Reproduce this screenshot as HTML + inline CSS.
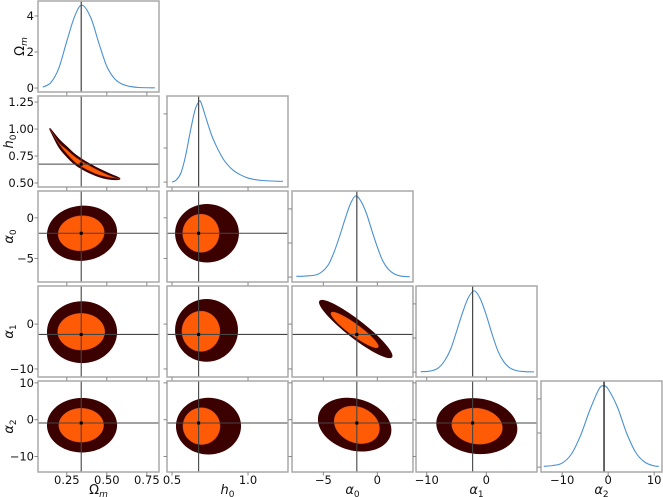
<!DOCTYPE html>
<html><head><meta charset="utf-8"><style>
html,body{margin:0;padding:0;background:#fff;}
svg{display:block;font-family:"DejaVu Sans","Liberation Sans",sans-serif;}
</style></head><body>
<svg id="chart" width="663" height="497" viewBox="0 0 663 497" xmlns="http://www.w3.org/2000/svg"></svg>
<script>
// ---- data ----
const paramNames = ["Ωm","h0","α0","α1","α2"];
const truthValues = [0.34, 0.675, -1.9, -2.3, -0.9];
const xRanges = [[0.07,0.826],[0.467,1.263],[-7.9,3.3],[-11.8,8.5],[-14.6,11.7]];
const yRanges = [[-0.22,4.83],[0.463,1.306],[-7.9,3.3],[-11.8,8.5],[-14.2,10.5]];
const xTicks = [[0.25,0.5,0.75],[0.5,1.0],[-5,0],[-10,0],[-10,0,10]];
const xTickLabels = [["0.25","0.50","0.75"],["0.5","1.0"],["−5","0"],["−10","0"],["−10","0","10"]];
const yTicks = [[0,2,4],[0.5,0.75,1.0,1.25],[-5,0],[-10,0],[-10,0,10]];
const yTickLabels = [["0","2","4"],["0.50","0.75","1.00","1.25"],["−5","0"],["−10","0"],["−10","0","10"]];

// marginal densities
const omX = [0.10,0.15,0.20,0.25,0.30,0.345,0.40,0.45,0.50,0.55,0.60,0.65,0.70,0.80];
const omY = [0.05,0.3,1.1,2.6,4.0,4.6,3.9,2.5,1.2,0.5,0.2,0.08,0.03,0.01];
const h0X = [0.50,0.53,0.56,0.59,0.62,0.65,0.67,0.685,0.70,0.73,0.76,0.79,0.82,0.85,0.90,0.95,1.00,1.05,1.10,1.20,1.23];
const h0Y = [0.0,0.03,0.12,0.33,0.62,0.88,0.97,1.0,0.93,0.75,0.58,0.45,0.34,0.25,0.15,0.09,0.05,0.03,0.02,0.01,0.01];
const a0X = [-7.5,-7,-6.5,-6,-5.5,-5,-4.5,-4,-3.5,-3,-2.5,-2,-1.5,-1,-0.5,0,0.5,1,1.5,2,2.5,3];
const a0Y = [0.01,0.01,0.015,0.02,0.035,0.08,0.16,0.31,0.50,0.71,0.90,1.0,0.93,0.78,0.57,0.37,0.2,0.1,0.045,0.018,0.008,0.005];
const a1X = [-11,-10,-9,-8,-7,-6,-5,-4,-3,-2,-1,0,1,2,3,4,5,6,7,8];
const a1Y = [0.005,0.008,0.02,0.055,0.14,0.28,0.50,0.73,0.92,1.0,0.90,0.70,0.46,0.25,0.12,0.05,0.02,0.008,0.004,0.003];
const a2X = [-14,-12,-10,-8,-6,-4,-2,-1,0,2,4,6,8,10,11];
const a2Y = [0.01,0.02,0.05,0.16,0.39,0.70,0.96,1.0,0.96,0.74,0.42,0.18,0.06,0.015,0.01];

// banana contour (h0 vs Ωm)
const bananaOm = [0.145,0.2,0.25,0.3,0.35,0.4,0.45,0.5,0.55,0.58];
const bananaH = [1.0,0.87,0.79,0.72,0.67,0.63,0.595,0.568,0.548,0.54];
const bananaOuterHalf = [0.004,0.034,0.044,0.045,0.043,0.04,0.035,0.028,0.016,0.004];
const bananaInnerHalf = [0,0.004,0.018,0.024,0.025,0.023,0.019,0.011,0.002,0];

// elliptical credible regions
const ellRow = [2,3,4,2,3,4,3,4,4];
const ellCol = [0,0,0,1,1,1,2,2,3];
const ellOuterCx = [0.345,0.345,0.345,0.73,0.727,0.74,-2.0,-2.1,-1.6];
const ellOuterCy = [-1.9,-1.8,-1.5,-1.9,-1.4,-1.75,-1.1,-1.35,-1.75];
const ellOuterRx = [0.219,0.219,0.219,0.21,0.207,0.214,3.4,3.4,6.8];
const ellOuterRy = [3.4,6.9,7.4,3.6,7.0,7.7,6.5,7.3,7.6];
const ellInnerCx = [0.34,0.34,0.34,0.69,0.69,0.694,-2.1,-1.9,-1.55];
const ellInnerCy = [-1.9,-1.7,-1.5,-1.9,-1.6,-1.75,-1.3,-1.4,-1.75];
const ellInnerRx = [0.144,0.147,0.14,0.12,0.125,0.122,2.2,2.1,4.25];
const ellInnerRy = [2.16,4.1,4.6,2.35,4.5,5.0,4.0,5.1,4.9];
const ellRho = [0.05,0,0,0,0,0,-0.92,-0.2,-0.1];

// ---- layout ----
const colLeft = [38,167,292,416,541];
const rowTop = [1,96,191,286,381];
const PW = 121, PH = 91;
const NS = "http://www.w3.org/2000/svg";
const svg = document.getElementById("chart");
function mk(tag, attrs, parent){ const e=document.createElementNS(NS,tag); for(const k in attrs) e.setAttribute(k,attrs[k]); (parent||svg).appendChild(e); return e; }
function sx(p,v){ const r=xRanges[p]; return colLeft[p]+(v-r[0])/(r[1]-r[0])*PW; }
function sy(row,v){ const r=yRanges[row]; return rowTop[row]+PH-(v-r[0])/(r[1]-r[0])*PH; }
const dRange=[-0.06,1.06];
function sdy(row,v){ if(row===0) return sy(0,v); return rowTop[row]+PH-(v-dRange[0])/(dRange[1]-dRange[0])*PH; }
function smoothPath(pts){
  let d="M"+pts[0][0].toFixed(2)+","+pts[0][1].toFixed(2);
  for(let i=0;i<pts.length-1;i++){
    const p0=pts[Math.max(0,i-1)],p1=pts[i],p2=pts[i+1],p3=pts[Math.min(pts.length-1,i+2)];
    const c1=[p1[0]+(p2[0]-p0[0])/6,p1[1]+(p2[1]-p0[1])/6];
    const c2=[p2[0]-(p3[0]-p1[0])/6,p2[1]-(p3[1]-p1[1])/6];
    d+="C"+c1[0].toFixed(2)+","+c1[1].toFixed(2)+" "+c2[0].toFixed(2)+","+c2[1].toFixed(2)+" "+p2[0].toFixed(2)+","+p2[1].toFixed(2);
  }
  return d;
}
function clipFor(r,c){
  const id="clip"+r+c;
  const cp=mk("clipPath",{id:id});
  mk("rect",{x:colLeft[c],y:rowTop[r],width:PW,height:PH},cp);
  return "url(#"+id+")";
}

const diagX=[omX,h0X,a0X,a1X,a2X];
const diagY=[omY,h0Y,a0Y,a1Y,a2Y];
const sub=["m","0","0","1","2"];
const base=["Ω","h","α","α","α"];

for(let r=0;r<5;r++){
  for(let c=0;c<=r;c++){
    const g=mk("g",{"clip-path":clipFor(r,c)});
    
    
    const x0=colLeft[c], y0=rowTop[r];
    if(r===c){
      const xs=diagX[r], ys=diagY[r];
      const pts=xs.map((v,i)=>[sx(c,v),sdy(r,ys[i])]);
      const p=mk("path",{d:smoothPath(pts),fill:"none",stroke:"#4a90cf","stroke-width":1.1},g);
      
      
      const tl=mk("line",{x1:sx(c,truthValues[c]),x2:sx(c,truthValues[c]),y1:y0,y2:y0+PH,stroke:r===4?"#000":"#444","stroke-width":1.2},g);
      
      
    } else {
      if(r===1 && c===0){
        for(const [half,col,nm] of [[bananaOuterHalf,"#3b0000","outer-contour"],[bananaInnerHalf,"#ff5a05","inner-contour"]]){
          const top=bananaOm.map((v,i)=>[sx(0,v),sy(1,bananaH[i]+half[i])]);
          const bot=bananaOm.map((v,i)=>[sx(0,v),sy(1,bananaH[i]-half[i])]).reverse();
          const d=smoothPath(top)+smoothPath(bot).replace("M","L")+"Z";
          const p=mk("path",{d:d,fill:col,stroke:nm==="outer-contour"?"#3b0000":"#b04020","stroke-width":nm==="outer-contour"?1.2:0.4,"stroke-linejoin":"round"},g);
          
          
        }
      } else {
        let k=-1;
        for(let i=0;i<ellRow.length;i++) if(ellRow[i]===r&&ellCol[i]===c) k=i;
        if(k>=0){
          const rho=ellRho[k], s=Math.sqrt(1-rho*rho);
          const sets=[[ellOuterCx,ellOuterCy,ellOuterRx,ellOuterRy,"#3b0000","outer-contour"],[ellInnerCx,ellInnerCy,ellInnerRx,ellInnerRy,"#ff5a05","inner-contour"]];
          for(const [CX,CY,RX,RY,col,nm] of sets){
            let d="";
            for(let t=0;t<=72;t++){
              const a=t/72*2*Math.PI;
              const vx=CX[k]+RX[k]*Math.cos(a);
              const vy=CY[k]+RY[k]*(rho*Math.cos(a)+s*Math.sin(a));
              d+=(t?"L":"M")+sx(c,vx).toFixed(2)+","+sy(r,vy).toFixed(2);
            }
            const p=mk("path",{d:d+"Z",fill:col,stroke:nm==="inner-contour"?"#c05030":"none","stroke-width":0.5},g);
            
            
          }
        }
      }
      const vx=sx(c,truthValues[c]), hy=sy(r,truthValues[r]);
      const vl=mk("line",{x1:vx,x2:vx,y1:y0,y2:y0+PH,stroke:"#444","stroke-width":1.1},g);
      
      
      const hl=mk("line",{x1:x0,x2:x0+PW,y1:hy,y2:hy,stroke:"#444","stroke-width":1.1},g);
      
      
      const dot=mk("rect",{x:vx-1.5,y:hy-1.5,width:3,height:3,fill:"#000"},g);
      
      
    }
    const fr=mk("rect",{x:x0,y:y0,width:PW,height:PH,fill:"none",stroke:"#a8a8a8","stroke-width":1.5});
    
    
    xTicks[c].forEach((t,i)=>{
      const x=sx(c,t);
      mk("line",{x1:x,x2:x,y1:y0+PH,y2:y0+PH+3.5,stroke:"#888","stroke-width":1});
      if(r===4){
        const tx=mk("text",{x:x,y:484,"font-size":"11.5","text-anchor":"middle",fill:"#111"});
        tx.textContent=xTickLabels[c][i];
        
        
      }
    });
    const lt = (r===c && r>0) ? [0,0.42,0.84] : yTicks[r];
    lt.forEach((t,i)=>{
      const y=(r===c)?sdy(r,t):sy(r,t);
      mk("line",{x1:x0-3.5,x2:x0,y1:y,y2:y,stroke:"#888","stroke-width":1});
      if(c===0){
        const tx=mk("text",{x:34,y:y+4,"font-size":"11.5","text-anchor":"end",fill:"#111"});
        tx.textContent=yTickLabels[r][i];
        
        
      }
    });
  }
}
for(let p=0;p<5;p++){
  const cx=colLeft[p]+PW/2;
  const t=mk("text",{x:cx,y:494,"font-size":"13","text-anchor":"middle",fill:"#111"});
  
  
  const b=mk("tspan",{"font-style":p===0?"normal":"italic"},t); b.textContent=base[p];
  const s=mk("tspan",{"font-size":"9",dy:"3","font-style":p===0?"italic":"normal"},t); s.textContent=sub[p];
  const ly=rowTop[p]+PH/2, lx=(p===0)?24:13;
  const t2=mk("text",{x:lx,y:ly,"font-size":"13","text-anchor":"middle",fill:"#111",transform:"rotate(-90 "+lx+" "+ly+")"});
  
  
  const b2=mk("tspan",{"font-style":p===0?"normal":"italic"},t2); b2.textContent=base[p];
  const s2=mk("tspan",{"font-size":"9",dy:"3","font-style":p===0?"italic":"normal"},t2); s2.textContent=sub[p];
}
</script>
</body></html>
